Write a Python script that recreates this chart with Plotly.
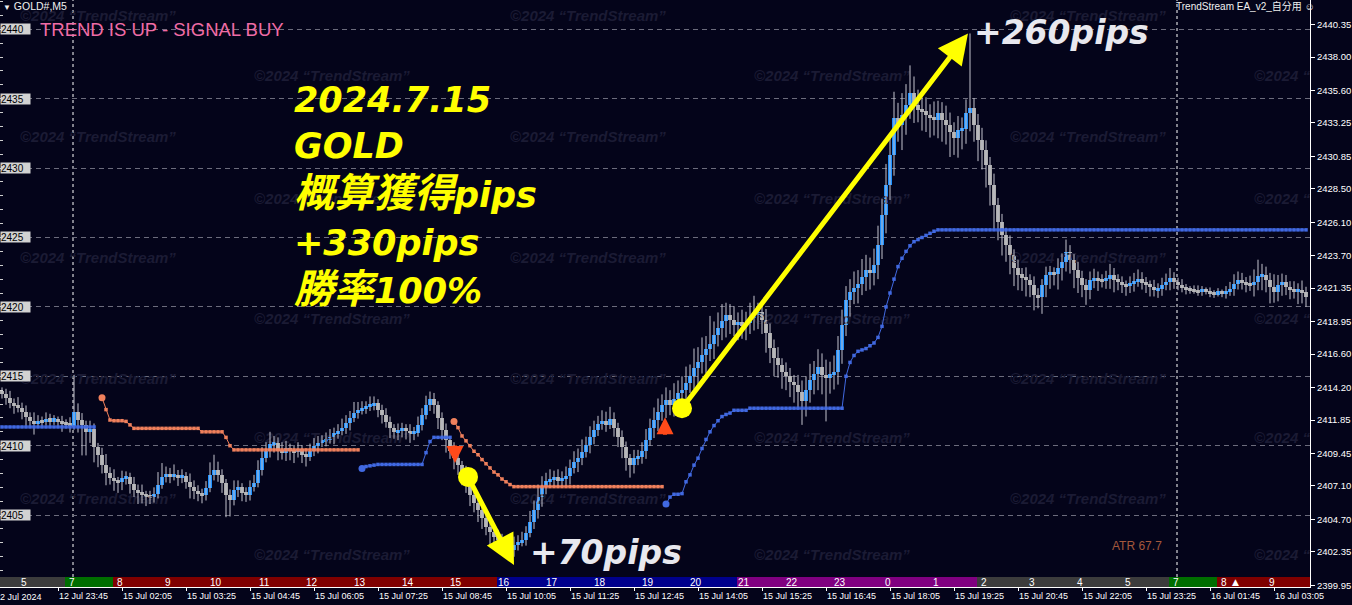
import plotly.graph_objects as go

# ---------------- price data (GOLD M5, one bar per 5 min) ----------------
first_open = 2413.9
closes = [
    2413.7, 2413.45, 2413.1, 2412.9, 2412.7, 2412.4, 2412.1, 2411.8, 2411.6, 2411.8,
    2411.75, 2411.9, 2411.8, 2411.9, 2411.75, 2411.6, 2411.55, 2411.45, 2412.45, 2411.85,
    2411.5, 2411.0, 2411.2, 2409.9, 2409.35, 2408.6, 2408.05, 2407.7, 2407.45, 2407.4,
    2407.7, 2407.75, 2407.25, 2406.8, 2406.6, 2406.45, 2406.35, 2406.3, 2406.5, 2407.2,
    2407.75, 2407.9, 2407.8, 2407.85, 2407.7, 2407.8, 2407.4, 2407.0, 2406.75, 2406.5,
    2406.45, 2406.95, 2407.9, 2408.25, 2407.9, 2407.3, 2406.45, 2406.1, 2406.8, 2407.0,
    2406.6, 2406.45, 2407.0, 2407.3, 2408.25, 2409.1, 2409.65, 2410.1, 2410.2, 2409.65,
    2409.5, 2409.85, 2409.65, 2409.55, 2409.75, 2409.35, 2409.2, 2409.65, 2409.95, 2410.2,
    2410.35, 2410.45, 2410.6, 2410.9, 2411.05, 2411.25, 2411.6, 2412.0, 2412.35, 2412.55,
    2412.7, 2412.8, 2412.95, 2413.05, 2412.55, 2412.2, 2411.7, 2411.25, 2411.0, 2411.1,
    2411.25, 2411.05, 2410.9, 2410.95, 2411.5, 2412.2, 2412.9, 2413.4, 2412.9, 2412.0,
    2411.1, 2410.4, 2409.65, 2409.1, 2408.6, 2408.05, 2407.2, 2406.45, 2405.9, 2405.4,
    2404.8, 2404.15, 2403.75, 2403.45, 2403.25, 2402.95, 2402.75, 2402.5, 2402.85, 2403.05,
    2403.2, 2403.7, 2404.5, 2405.35, 2406.3, 2407.0, 2407.45, 2407.6, 2407.7, 2407.5,
    2407.65, 2407.8, 2408.4, 2408.8, 2409.1, 2409.55, 2410.05, 2410.6, 2411.1, 2411.55,
    2411.75, 2411.5, 2411.9, 2411.25, 2410.6, 2409.9, 2409.1, 2408.6, 2409.1, 2409.2,
    2409.65, 2410.4, 2411.25, 2411.85, 2412.4, 2412.9, 2413.3, 2412.9, 2413.4, 2413.8,
    2414.0, 2414.5, 2415.05, 2415.6, 2416.0, 2416.5, 2417.0, 2417.35, 2417.95, 2418.5,
    2419.0, 2419.4, 2419.05, 2418.7, 2418.9, 2418.6, 2418.85, 2419.2, 2419.5, 2419.6,
    2419.05, 2418.1, 2417.05, 2416.3, 2415.8, 2415.3, 2415.0, 2414.6, 2414.4, 2413.9,
    2413.2, 2414.0, 2414.7, 2415.2, 2415.65, 2415.1, 2414.85, 2415.15, 2415.3, 2416.9,
    2418.7, 2420.5, 2421.1, 2421.35, 2421.65, 2422.15, 2422.65, 2422.45, 2423.0, 2424.45,
    2426.6, 2428.8, 2430.95, 2433.6, 2433.1, 2433.8, 2434.55, 2435.4, 2434.55, 2434.2,
    2434.1, 2433.8, 2433.7, 2433.45, 2433.95, 2433.5, 2433.1, 2432.6, 2432.15, 2432.75,
    2432.85, 2433.95, 2434.35, 2433.1, 2432.0, 2431.3, 2430.2, 2428.8, 2427.35, 2426.1,
    2425.2, 2424.45, 2423.75, 2422.8, 2422.3, 2422.15, 2421.95, 2421.6, 2420.85, 2420.7,
    2421.6, 2422.3, 2422.45, 2422.35, 2422.8, 2423.25, 2423.95, 2423.4, 2422.65, 2422.1,
    2421.6, 2421.25, 2421.95, 2422.05, 2421.95, 2421.9, 2422.0, 2422.3, 2421.95, 2421.8,
    2421.6, 2421.5, 2421.7, 2421.85, 2422.0, 2421.75, 2421.6, 2421.45, 2421.25, 2421.3,
    2421.6, 2421.8, 2422.1, 2421.8, 2421.6, 2421.35, 2421.3, 2421.25, 2421.15, 2421.1,
    2421.2, 2421.1, 2421.0, 2420.95, 2421.05, 2421.0, 2421.1, 2421.3, 2421.65, 2421.95,
    2421.75, 2421.65, 2421.55, 2421.8, 2422.2, 2422.3, 2421.95, 2421.45, 2421.1, 2421.6,
    2421.8, 2421.45, 2421.25, 2421.1, 2421.2, 2421.05, 2420.7,
]
upper_wick = [
    0.3, 0.4, 0.5, 0.3, 0.6, 0.4, 0.5, 0.3, 0.6, 0.4,
    0.3, 0.5, 0.4, 0.3, 0.2, 0.4, 0.3, 0.5, 2.65, 0.6,
    0.5, 0.3, 0.6, 0.4, 0.3, 0.5, 0.8, 0.4, 0.6, 0.3,
    0.5, 0.4, 0.3, 0.5, 0.4, 0.6, 0.3, 0.4, 0.5, 0.9,
    1.0, 0.6, 0.5, 0.8, 0.4, 0.5, 0.3, 0.6, 0.5, 0.4,
    0.4, 0.5, 0.9, 1.1, 0.6, 0.4, 0.3, 0.4, 0.7, 0.5,
    0.3, 0.4, 0.5, 0.6, 0.7, 0.8, 0.6, 0.9, 0.5, 0.4,
    0.6, 0.5, 0.3, 0.4, 0.5, 0.3, 0.4, 0.5, 0.6, 0.5,
    0.4, 0.5, 0.6, 0.4, 0.5, 0.7, 0.6, 0.5, 0.8, 0.6,
    0.5, 0.4, 0.6, 0.5, 0.3, 0.4, 0.5, 0.4, 0.3, 0.5,
    0.4, 0.3, 0.5, 0.4, 0.6, 0.5, 0.7, 0.5, 0.4, 0.3,
    0.4, 0.5, 0.3, 0.6, 0.4, 0.3, 0.5, 0.4, 0.6, 0.5,
    0.5, 0.4, 0.6, 0.3, 0.5, 0.4, 0.3, 0.4, 0.6, 0.5,
    0.6, 0.5, 0.8, 0.7, 0.9, 0.8, 0.6, 0.7, 0.5, 0.6,
    0.5, 0.7, 0.6, 0.8, 0.7, 0.9, 0.6, 0.8, 0.7, 0.6,
    0.8, 0.7, 0.9, 0.5, 0.4, 0.5, 0.4, 0.3, 0.6, 0.5,
    0.6, 0.8, 0.7, 0.9, 1.0, 0.8, 0.9, 0.7, 1.1, 0.9,
    1.0, 1.2, 0.8, 1.4, 1.1, 1.3, 0.9, 2.0, 1.0, 1.1,
    1.2, 0.9, 0.8, 1.0, 0.7, 0.9, 0.8, 1.1, 1.3, 0.7,
    0.6, 0.8, 0.7, 0.6, 0.8, 0.5, 0.7, 0.6, 0.5, 0.7,
    0.8, 1.0, 1.2, 0.9, 1.3, 1.0, 1.1, 0.9, 1.2, 1.0,
    1.1, 1.0, 0.9, 1.2, 1.0, 1.3, 1.1, 0.9, 1.2, 1.4,
    1.2, 1.5, 1.3, 1.9, 1.1, 1.6, 1.5, 2.0, 1.2, 1.1,
    0.9, 1.0, 0.8, 1.1, 0.9, 0.8, 1.0, 0.9, 0.7, 1.0,
    0.8, 1.0, 5.35, 0.7, 0.8, 0.9, 0.7, 0.6, 0.8, 0.5,
    0.6, 0.5, 0.7, 0.4, 0.6, 0.5, 0.7, 0.4, 0.6, 0.5,
    0.4, 0.6, 0.5, 0.4, 0.7, 0.6, 0.9, 0.5, 0.4, 0.6,
    0.5, 0.4, 0.6, 0.7, 0.5, 0.4, 0.6, 0.8, 0.5, 0.4,
    0.4, 0.3, 0.5, 0.6, 0.7, 0.5, 0.4, 0.3, 0.5, 0.4,
    0.5, 0.6, 0.7, 0.4, 0.3, 0.4, 0.3, 0.2, 0.3, 0.4,
    0.3, 0.2, 0.3, 0.2, 0.3, 0.2, 0.4, 0.5, 0.7, 0.6,
    0.5, 0.4, 0.6, 0.9, 1.2, 0.8, 0.6, 0.5, 0.9, 0.7,
    0.6, 0.5, 0.4, 0.6, 0.5, 0.7, 0.4,
]
lower_wick = [
    0.3, 0.5, 0.4, 0.6, 0.3, 0.5, 0.7, 0.4, 0.8, 0.3,
    0.4, 0.3, 0.5, 0.3, 0.4, 0.6, 0.3, 0.5, 0.3, 0.9,
    2.2, 1.7, 0.8, 1.1, 0.9, 0.6, 0.9, 0.5, 0.7, 0.8,
    0.6, 0.5, 0.7, 0.5, 0.8, 0.6, 0.7, 0.5, 0.4, 0.3,
    0.3, 0.4, 0.5, 0.3, 0.6, 0.4, 0.5, 0.8, 0.6, 0.5,
    0.6, 0.4, 0.3, 0.4, 0.5, 0.7, 1.6, 1.2, 0.4, 0.5,
    0.6, 0.5, 0.4, 0.3, 0.3, 0.4, 0.3, 0.5, 0.6, 0.7,
    0.5, 0.6, 0.7, 0.8, 0.4, 0.6, 0.7, 0.3, 0.4, 0.5,
    0.3, 0.4, 0.3, 0.5, 0.4, 0.3, 0.4, 0.5, 0.3, 0.4,
    0.3, 0.4, 0.3, 0.4, 0.5, 0.6, 0.4, 0.7, 0.5, 0.6,
    0.5, 0.6, 0.7, 0.5, 0.3, 0.4, 0.3, 0.4, 0.6, 0.8,
    0.7, 0.9, 0.6, 0.8, 0.7, 0.9, 0.6, 0.8, 0.7, 0.9,
    0.8, 0.6, 0.9, 0.7, 0.5, 0.6, 0.4, 0.2, 0.5, 0.4,
    0.3, 0.4, 0.3, 0.5, 0.6, 0.7, 0.5, 0.4, 0.6, 0.5,
    0.4, 0.5, 0.6, 0.4, 0.7, 0.5, 0.4, 0.6, 0.5, 0.4,
    0.4, 0.5, 0.3, 0.6, 0.7, 0.8, 0.9, 0.9, 0.6, 0.5,
    0.5, 0.6, 0.4, 0.7, 0.8, 0.6, 0.9, 0.7, 0.8, 1.0,
    0.9, 1.1, 0.7, 1.0, 1.2, 0.8, 1.3, 0.9, 1.1, 0.8,
    0.9, 1.2, 1.0, 0.8, 1.1, 0.9, 1.0, 0.8, 0.9, 1.1,
    1.0, 1.4, 1.1, 1.3, 0.9, 1.2, 1.0, 1.1, 1.3, 1.2,
    1.7, 1.1, 0.9, 1.0, 1.2, 1.4, 3.1, 1.1, 1.1, 0.9,
    1.0, 0.8, 1.2, 0.9, 1.1, 0.8, 1.0, 1.2, 0.9, 1.0,
    1.0, 1.3, 1.1, 1.5, 1.2, 1.8, 1.4, 1.0, 1.3, 0.9,
    1.4, 1.2, 1.5, 1.1, 1.3, 1.6, 1.4, 1.8, 1.2, 1.4,
    1.4, 1.1, 1.3, 1.2, 1.5, 1.4, 1.6, 1.5, 1.8, 1.3,
    1.5, 1.2, 1.4, 1.3, 1.1, 1.0, 1.2, 0.9, 1.1, 0.8,
    1.2, 0.9, 1.0, 0.8, 1.1, 0.9, 0.7, 1.0, 1.3, 1.1,
    0.9, 1.1, 0.7, 0.6, 0.8, 0.5, 0.6, 0.7, 0.9, 0.6,
    0.6, 0.7, 0.5, 0.6, 0.4, 0.5, 0.6, 0.7, 0.5, 0.6,
    0.5, 0.4, 0.6, 0.5, 0.4, 0.3, 0.4, 0.3, 0.2, 0.3,
    0.3, 0.2, 0.3, 0.3, 0.2, 0.3, 0.4, 0.3, 0.5, 0.4,
    0.5, 0.6, 0.4, 0.8, 0.6, 1.0, 0.9, 1.2, 0.8, 0.7,
    0.8, 0.6, 0.7, 0.5, 0.9, 0.8, 0.7,
]

# ---------------- TrendStream stop lines (first bar, values) ----------------
sell_stop1_start = 25
sell_stop1 = ([2413.45, 2412.6, 2411.85, 2411.8, 2411.8, 2411.8, 2411.75, 2411.5]
              + [2411.25] * 17 + [2411.0] * 6 + [2410.6, 2410.0] + [2409.7] * 32)
sell_stop2_start = 113
sell_stop2 = ([2411.75, 2411.3, 2410.7, 2410.35, 2410.0, 2409.6, 2409.35, 2409.0,
               2408.7, 2408.4, 2408.1, 2407.9, 2407.6, 2407.4, 2407.2] + [2407.05] * 38)
buy_stop1_start = 0
buy_stop1 = [2411.35] * 24
buy_stop2_start = 90
buy_stop2 = [2408.35, 2408.5, 2408.55, 2408.6] + [2408.65] * 12 + [2409.5, 2410.3] + [2410.6] * 5
buy_stop3_start = 166
buy_stop3 = ([2405.8, 2406.3, 2406.5, 2406.5, 2406.55, 2407.4, 2407.9, 2408.6, 2409.1,
              2409.8, 2410.45, 2411.0, 2411.45, 2411.8, 2412.1, 2412.25, 2412.35]
             + [2412.55] * 4 + [2412.7] * 24
             + [2415.0, 2416.0, 2416.5, 2416.8, 2416.9, 2417.0, 2417.2, 2417.4, 2417.8,
                2418.6, 2420.0, 2421.0, 2422.0, 2422.9, 2423.5, 2424.0, 2424.4, 2424.7,
                2424.85, 2425.0, 2425.15, 2425.3, 2425.45]
             + [2425.55] * 93)

# signals (arrow tip) and trades
signal_bars = [113.25, 165.75]
signal_prices = [2408.75, 2412.05]
signal_dirs = [-1, 1]          # -1 sell (down arrow), +1 buy (up arrow)
entry_bars = [116.5, 170]
entry_prices = [2407.75, 2412.7]
exit_bars = [128, 241.5]
exit_prices = [2401.4, 2439.7]

# axes
grid_levels = [2405, 2410, 2415, 2420, 2425, 2430, 2435, 2440]
right_ticks = [2440.35, 2438.00, 2435.60, 2433.25, 2430.85, 2428.50, 2426.10, 2423.70,
               2421.35, 2418.95, 2416.60, 2414.20, 2411.85, 2409.45, 2407.10, 2404.70,
               2402.35, 2399.95]
time_tick_bars = [14, 30, 46, 62, 78, 94, 110, 126, 142, 158, 174, 190, 206, 222, 238,
                  254, 270, 286, 302, 318]
time_tick_text = ["12 Jul 23:45", "15 Jul 02:05", "15 Jul 03:25", "15 Jul 04:45",
                  "15 Jul 06:05", "15 Jul 07:25", "15 Jul 08:45", "15 Jul 10:05",
                  "15 Jul 11:25", "15 Jul 12:45", "15 Jul 14:05", "15 Jul 15:25",
                  "15 Jul 16:45", "15 Jul 18:05", "15 Jul 19:25", "15 Jul 20:45",
                  "15 Jul 22:05", "15 Jul 23:25", "16 Jul 01:45", "16 Jul 03:05"]
day_breaks = [17.75, 293.75]

# session strip (JST hours)
session_edges = [-0.5, 15.75, 27.75, 123.75, 183.75, 243.75, 291.75, 303.75, 327.0]
session_colors = ["#3c3c3c", "#006e00", "#800000", "#00008c", "#800080",
                  "#3c3c3c", "#006e00", "#800000"]
hour_starts = [3.75, 15.75, 27.75, 39.75, 51.75, 63.75, 75.75, 87.75, 99.75, 111.75,
               123.75, 135.75, 147.75, 159.75, 171.75, 183.75, 195.75, 207.75, 219.75,
               231.75, 243.75, 255.75, 267.75, 279.75, 291.75, 303.75, 315.75]
hour_labels = ["5", "7", "8", "9", "10", "11", "12", "13", "14", "15", "16", "17", "18",
               "19", "20", "21", "22", "23", "0", "1", "2", "3", "4", "5", "7", "8", "9"]

BG = "#04041a"
BLUE = "#1e90ff"
GRAY = "#aaaaaa"
ORANGE = "#f0805c"
ROYAL = "#4169e1"
YELLOW = "#ffff00"
Y_RANGE = [2399.82, 2442.11]
PLOT_W, PLOT_H = 1310, 587
MIN_BODY = 0.22

n = len(closes)
idx = list(range(n))
opens = [first_open] + closes[:-1]
tops = [max(o, c) for o, c in zip(opens, closes)]
bots = [min(o, c) for o, c in zip(opens, closes)]
colors = [BLUE if c > o else GRAY for o, c in zip(opens, closes)]

# bodies: MT4 draws thin bodies at least a few pixels tall
body_h, body_base = [], []
for t, b in zip(tops, bots):
    h = max(t - b, MIN_BODY)
    body_h.append(h)
    body_base.append((t + b) / 2 - h / 2)

wx, wy = [], []
for i in idx:
    wx += [i, i, None]
    wy += [bots[i] - lower_wick[i], tops[i] + upper_wick[i], None]

fig = go.Figure()

# watermark (the right column is cut by the price scale, as in MT4)
wm_rows = [2440.89, 2436.56, 2432.17, 2427.7, 2423.4, 2419.07, 2414.75, 2410.43, 2406.1, 2402.0]
wm_x, wm_y, wm_t = [], [], []
for r, p in enumerate(wm_rows):
    cols = [4.5, 127, 252] if r % 2 == 0 else [63, 188, 313]
    for c in cols:
        wm_x.append(c)
        wm_y.append(p)
        wm_t.append("©2024 “T" if c > 300 else "©2024 “TrendStream”")
fig.add_trace(go.Scatter(
    x=wm_x, y=wm_y, mode="text", text=wm_t,
    textposition="middle right", cliponaxis=True, hoverinfo="skip",
    textfont=dict(family="Liberation Sans", size=15, color="#1b1b34",
                  weight="bold", style="italic"),
))

fig.add_trace(go.Scatter(x=wx, y=wy, mode="lines", line=dict(color="#c4c4ce", width=1),
                         hoverinfo="skip"))
fig.add_trace(go.Bar(
    x=idx, y=body_h, base=body_base, width=0.95,
    marker=dict(color=colors, line=dict(width=0)), hoverinfo="skip",
))

for start, vals, col in [(sell_stop1_start, sell_stop1, ORANGE),
                         (sell_stop2_start, sell_stop2, ORANGE),
                         (buy_stop1_start, buy_stop1, ROYAL),
                         (buy_stop2_start, buy_stop2, ROYAL),
                         (buy_stop3_start, buy_stop3, ROYAL)]:
    xs = list(range(start, start + len(vals)))
    fig.add_trace(go.Scatter(x=xs, y=vals, mode="lines+markers",
                             line=dict(color=col, width=1),
                             marker=dict(symbol="square", size=3.5, color=col),
                             hoverinfo="skip"))
    if start > 0:
        fig.add_trace(go.Scatter(x=[xs[0]], y=[vals[0]], mode="markers",
                                 marker=dict(size=7, color=col), hoverinfo="skip"))

fig.add_trace(go.Scatter(x=entry_bars, y=entry_prices, mode="markers",
                         marker=dict(size=20, color=YELLOW), hoverinfo="skip"))

# helper traces so the overlay axes get drawn
fig.add_trace(go.Scatter(x=[0], y=[2420], yaxis="y2", mode="markers",
                         marker=dict(opacity=0), hoverinfo="skip"))
fig.add_trace(go.Scatter(x=[0], y=[2420], yaxis="y3", mode="markers",
                         marker=dict(opacity=0), hoverinfo="skip"))

ann = []
# trade arrows
for eb, ep, xb, xp in zip(entry_bars, entry_prices, exit_bars, exit_prices):
    ann.append(dict(x=xb, y=xp, ax=eb, ay=ep, xref="x", yref="y", axref="x", ayref="y",
                    text="", showarrow=True, arrowhead=2, arrowsize=1.2, arrowwidth=5,
                    arrowcolor=YELLOW, standoff=0, startstandoff=0))
# signal arrows
for b, p, d in zip(signal_bars, signal_prices, signal_dirs):
    ann.append(dict(x=b, y=p, xref="x", yref="y", ax=0, ay=19 * d, text="",
                    showarrow=True, arrowhead=2, arrowsize=0.85, arrowwidth=4,
                    arrowcolor="#ff4a1a", standoff=0, startstandoff=0))

def px_x(v):
    return v / PLOT_W

def px_y(v):
    return 1 - v / PLOT_H

# left price boxes
for lv in grid_levels:
    ann.append(dict(x=0, y=lv, xref="paper", yref="y", xanchor="left", yanchor="middle",
                    text=str(lv), showarrow=False, bgcolor="#d2d2d2", width=29, height=10,
                    align="left", borderpad=0,
                    font=dict(family="Liberation Sans", size=10, color="#000000")))

big = dict(family="DejaVu Sans, Noto Sans CJK JP", size=35, color=YELLOW,
           weight="bold", style="italic")
lines = ["2024.7.15", "GOLD",
         "<span style='font-size:40px'>概算獲得</span>pips",
         "+330pips", "<span style='font-size:40px'>勝率</span>100%"]
line_y = [100, 146, 193, 243, 289]
for t, yy in zip(lines, line_y):
    ann.append(dict(x=px_x(292), y=px_y(yy), xref="paper", yref="paper", xanchor="left",
                    yanchor="middle", text=t, showarrow=False, font=big))

white_big = dict(family="DejaVu Sans", size=33, color="#e8e8ee", weight="bold", style="italic")
ann.append(dict(x=px_x(528), y=px_y(552), xref="paper", yref="paper", xanchor="left",
                yanchor="middle", text="+70pips", showarrow=False, font=white_big))
ann.append(dict(x=px_x(972), y=px_y(32), xref="paper", yref="paper", xanchor="left",
                yanchor="middle", text="+260pips", showarrow=False, font=white_big))

ann.append(dict(x=px_x(38), y=px_y(29.5), xref="paper", yref="paper", xanchor="left",
                yanchor="middle", text="TREND IS UP - SIGNAL BUY", showarrow=False,
                font=dict(family="Liberation Sans", size=18.5, color="#f06ca6")))
ann.append(dict(x=px_x(1), y=px_y(6.5), xref="paper", yref="paper", xanchor="left",
                yanchor="middle", text="<span style='font-size:8px'>▼</span> GOLD#,M5",
                showarrow=False, font=dict(family="Liberation Sans", size=10.5, color="#f0f0f0")))
ann.append(dict(x=px_x(1174), y=px_y(6.5), xref="paper", yref="paper", xanchor="left",
                yanchor="middle", text="TrendStream EA_v2_自分用 ☺", showarrow=False,
                font=dict(family="Liberation Sans, Noto Sans CJK JP", size=10, color="#f0f0f0")))
ann.append(dict(x=px_x(1110), y=px_y(546), xref="paper", yref="paper", xanchor="left",
                yanchor="middle", text="ATR 67.7", showarrow=False,
                font=dict(family="Liberation Sans", size=12, color="#a5583c")))
ann.append(dict(x=px_x(44), y=0, xref="paper", yref="paper", xanchor="right",
                yanchor="top", yshift=-3, text="12 Jul 2024", showarrow=False,
                font=dict(family="Liberation Sans", size=9, color="#ffffff")))

# session strip
strip_top = 10 / PLOT_H
shapes = []
for x0, x1, col in zip(session_edges[:-1], session_edges[1:], session_colors):
    shapes.append(dict(type="rect", xref="x", yref="paper", x0=x0, x1=x1, y0=0,
                       y1=strip_top, fillcolor=col, line=dict(width=0), layer="above"))
for hs, hl in zip(hour_starts, hour_labels):
    ann.append(dict(x=hs + 1.75, y=strip_top / 2, xref="x", yref="paper", text=hl,
                    showarrow=False, yanchor="middle",
                    font=dict(family="Liberation Sans", size=10, color="#ffffff")))
ann.append(dict(x=308.25, y=strip_top / 2, xref="x", yref="paper", text="▲",
                showarrow=False, yanchor="middle",
                font=dict(family="DejaVu Sans", size=9, color="#ffffff")))
for d in day_breaks:
    shapes.append(dict(type="line", xref="x", yref="paper", x0=d, x1=d, y0=strip_top, y1=1,
                       line=dict(color="#ffffff", width=1, dash="3px,3px"), layer="below"))

fig.update_layout(
    width=1352, height=605, margin=dict(l=0, r=42, t=0, b=18),
    paper_bgcolor=BG, plot_bgcolor=BG, showlegend=False, template="none",
    font=dict(family="Liberation Sans", color="#ffffff"),
    bargap=0, annotations=ann, shapes=shapes,
    xaxis=dict(range=[-0.5, 327.0], domain=[0, 1], showgrid=False, zeroline=False,
               showline=True, linecolor="#ffffff", linewidth=1,
               tickmode="array", tickvals=time_tick_bars, ticktext=time_tick_text,
               ticks="outside", ticklen=3, tickcolor="#ffffff",
               ticklabelposition="outside right",
               tickfont=dict(family="Liberation Sans", size=9, color="#ffffff"),
               automargin=False, fixedrange=True),
    yaxis=dict(range=Y_RANGE, side="left", tickmode="array", tickvals=grid_levels,
               showticklabels=False, ticks="", showgrid=True, gridcolor="#6c6c7c",
               griddash="5px,4px", gridwidth=1, zeroline=False, showline=False,
               automargin=False, fixedrange=True),
    yaxis2=dict(range=Y_RANGE, overlaying="y", side="right", anchor="x",
                tickmode="array", tickvals=right_ticks,
                ticktext=["%.2f" % v for v in right_ticks],
                ticks="outside", ticklen=4, tickcolor="#ffffff", showline=True,
                linecolor="#ffffff", linewidth=1, showgrid=False, zeroline=False,
                tickfont=dict(family="Liberation Sans", size=9.5, color="#ffffff"),
                automargin=False, fixedrange=True),
    yaxis3=dict(range=Y_RANGE, overlaying="y", side="left", anchor="x",
                tickmode="linear", tick0=2400, dtick=1, ticks="inside", ticklen=3,
                tickcolor="#cfcfcf", showticklabels=False, showgrid=False,
                zeroline=False, showline=False, automargin=False, fixedrange=True),
)

fig.write_html("out.html", config={"displayModeBar": False},
               post_script="document.body.style.margin='0px';")
